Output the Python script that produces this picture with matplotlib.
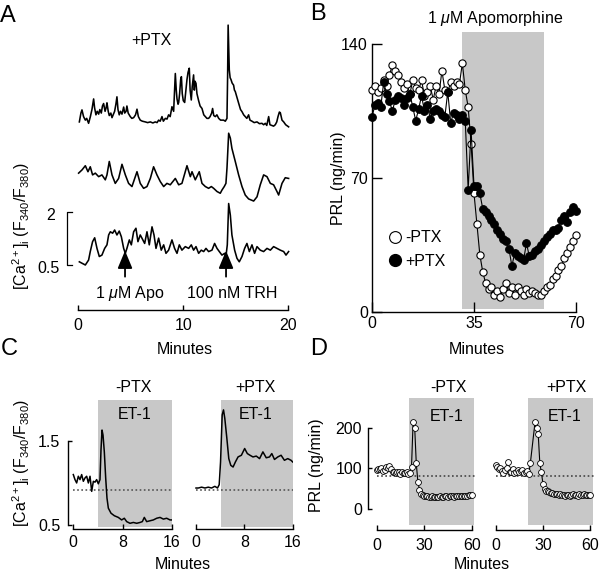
import matplotlib
matplotlib.use('Agg')
import matplotlib.pyplot as plt
from matplotlib.lines import Line2D

plt.rcParams['font.family'] = ['Liberation Sans', 'DejaVu Sans']
plt.rcParams['font.size'] = 11.5
plt.rcParams['mathtext.fontset'] = 'custom'
plt.rcParams['mathtext.rm'] = 'Liberation Sans'
plt.rcParams['mathtext.it'] = 'Liberation Sans:italic'
plt.rcParams['mathtext.bf'] = 'Liberation Sans:bold'
plt.rcParams['mathtext.default'] = 'regular'
plt.rcParams['axes.linewidth'] = 1.0

# ---- panel A: single-cell [Ca2+]i traces (+PTX), minutes vs ratio ----
t_top = [0.10, 0.25, 0.35, 0.50, 0.67, 0.80, 0.98, 1.15, 1.30, 1.46,
         1.55, 1.68, 1.80, 1.94, 2.05, 2.19, 2.30, 2.41, 2.55, 2.65,
         2.73, 2.85, 2.95, 3.10, 3.21, 3.35, 3.46, 3.58, 3.68, 3.78,
         3.90, 4.02, 4.16, 4.32, 4.42, 4.55, 4.63, 4.75, 4.95, 5.10,
         5.27, 5.45, 5.59, 5.72, 5.90, 6.10, 6.38, 6.60, 6.86, 7.10,
         7.33, 7.50, 7.65, 7.80, 7.97, 8.10, 8.29, 8.45, 8.60, 8.75,
         8.92, 9.08, 9.24, 9.33, 9.40, 9.50, 9.56, 9.65, 9.75, 9.82,
         9.90, 10.00, 10.13, 10.25, 10.35, 10.45, 10.57, 10.65, 10.76, 10.85,
         10.98, 11.05, 11.12, 11.21, 11.30, 11.46, 11.60, 11.78, 11.95, 12.10,
         12.25, 12.41, 12.55, 12.70, 12.79, 12.90, 13.05, 13.20, 13.37, 13.55,
         13.84, 14.00, 14.16, 14.22, 14.27, 14.33, 14.38, 14.46, 14.54, 14.65,
         14.79, 14.87, 14.95, 15.10, 15.27, 15.45, 15.59, 15.75, 15.90, 16.05,
         16.22, 16.35, 16.54, 16.75, 17.02, 17.25, 17.49, 17.65, 17.81, 17.95,
         18.13, 18.25, 18.44, 18.60, 18.76, 18.90, 19.02, 19.15, 19.24, 19.40,
         19.56, 19.75, 20.03]
ratio_top = [0.70, 0.95, 1.04, 0.85, 0.75, 0.80, 0.66, 0.85, 1.05, 1.35,
             1.10, 0.90, 1.00, 0.92, 1.05, 0.95, 1.15, 1.22, 1.00, 1.10,
             1.24, 1.00, 0.88, 0.95, 0.82, 0.92, 1.00, 1.20, 1.41, 1.05,
             0.90, 1.00, 0.92, 1.12, 0.95, 1.00, 1.15, 0.95, 0.85, 0.80,
             0.82, 0.90, 1.06, 0.85, 0.75, 0.72, 0.70, 0.68, 0.70, 0.67,
             0.70, 0.68, 0.75, 0.72, 0.85, 0.72, 0.80, 0.78, 0.90, 0.85,
             1.13, 1.00, 2.07, 1.60, 1.35, 1.20, 1.25, 1.50, 1.90, 1.98,
             1.50, 1.30, 1.25, 1.60, 1.90, 2.10, 2.22, 1.60, 1.32, 1.70,
             2.03, 1.60, 1.85, 1.79, 1.50, 1.30, 1.15, 1.08, 0.90, 0.85,
             0.80, 0.80, 0.85, 0.95, 1.08, 0.88, 0.85, 0.90, 0.80, 0.75,
             0.75, 0.72, 0.80, 2.00, 3.44, 2.80, 2.17, 1.95, 1.90, 1.80,
             1.74, 1.60, 1.56, 1.40, 1.23, 1.05, 0.99, 0.90, 0.85, 0.80,
             0.90, 0.75, 0.72, 0.68, 0.70, 0.65, 0.66, 0.62, 0.66, 0.60,
             0.85, 0.62, 0.60, 0.58, 0.62, 0.70, 0.85, 0.98, 0.96, 0.75,
             0.70, 0.62, 0.56]

t_mid = [0.03, 0.35, 0.67, 0.92, 1.14, 1.36, 1.62, 1.94, 2.25, 2.57,
         2.73, 2.95, 3.21, 3.52, 3.84, 4.16, 4.48, 4.79, 5.11, 5.59,
         5.90, 6.22, 6.54, 6.86, 7.17, 7.49, 7.81, 8.13, 8.44, 8.76,
         9.24, 9.56, 9.87, 10.35, 10.67, 10.83, 11.14, 11.52, 11.78, 12.10,
         12.41, 12.67, 12.89, 13.21, 13.52, 13.68, 13.90, 14.06, 14.16, 14.32,
         14.48, 14.63, 14.95, 15.27, 15.59, 15.90, 16.22, 16.70, 17.02, 17.33,
         17.65, 17.97, 18.29, 18.60, 18.92, 19.08, 19.40, 19.71, 20.03]
ratio_mid = [1.13, 1.22, 1.34, 1.17, 1.31, 1.08, 1.13, 1.03, 1.08, 0.94,
             1.08, 1.46, 1.08, 0.84, 0.98, 1.38, 1.08, 0.84, 0.75, 1.17,
             0.84, 0.70, 0.75, 0.98, 1.31, 1.08, 0.89, 0.75, 0.84, 0.80,
             0.98, 0.80, 0.84, 1.34, 1.03, 1.17, 0.94, 1.17, 0.84, 0.75,
             0.70, 0.75, 0.70, 0.61, 0.56, 0.65, 0.75, 0.84, 1.27, 2.26,
             2.12, 1.83, 1.46, 1.08, 0.75, 0.51, 0.40, 0.34, 0.46, 0.80,
             1.08, 1.03, 0.84, 0.80, 0.61, 0.51, 0.84, 1.00, 0.98]

t_bot = [0.10, 0.35, 0.67, 0.98, 1.14, 1.36, 1.56, 1.78, 2.00, 2.25,
         2.51, 2.73, 2.89, 3.05, 3.27, 3.46, 3.68, 3.90, 4.10, 4.32,
         4.48, 4.63, 4.86, 5.05, 5.27, 5.49, 5.68, 5.90, 6.06, 6.32,
         6.54, 6.76, 7.02, 7.21, 7.40, 7.65, 7.90, 8.13, 8.35, 8.60,
         8.92, 9.17, 9.40, 9.62, 9.87, 10.19, 10.51, 10.76, 10.98, 11.21,
         11.46, 11.71, 11.94, 12.16, 12.41, 12.73, 12.98, 13.21, 13.43, 13.68,
         13.94, 14.06, 14.19, 14.32, 14.48, 14.63, 14.89, 15.11, 15.33, 15.59,
         15.84, 16.06, 16.29, 16.54, 16.79, 17.02, 17.33, 17.65, 17.97, 18.29,
         18.60, 18.92, 19.24, 19.56, 19.78, 20.03]
ratio_bot = [0.59, 0.55, 0.50, 0.64, 0.88, 1.16, 1.27, 0.97, 0.74, 0.78,
             0.97, 1.07, 1.35, 1.44, 1.40, 1.49, 1.35, 1.46, 1.30, 0.97,
             0.83, 0.97, 1.21, 1.07, 1.44, 1.54, 1.16, 1.35, 1.26, 1.11,
             1.44, 1.07, 1.58, 1.35, 0.97, 1.26, 0.92, 1.07, 0.83, 0.92,
             1.21, 0.97, 0.83, 1.07, 0.92, 1.02, 0.97, 1.07, 0.92, 1.02,
             0.83, 0.92, 0.88, 0.97, 0.88, 0.92, 1.11, 0.97, 0.88, 0.78,
             0.83, 0.74, 1.07, 2.24, 1.91, 1.35, 0.92, 0.69, 0.59, 0.74,
             0.97, 1.11, 0.88, 1.07, 0.83, 1.02, 0.92, 0.88, 0.97, 0.92,
             1.02, 0.97, 0.92, 0.88, 0.78, 0.88]
apo_time = 4.45
trh_time = 14.07

# ---- panel B: PRL release, 1 point per minute ----
b_minutes = list(range(71))
prl_minus_ptx = [116, 118, 115, 117, 121, 118, 124, 129, 126, 124,
                 120, 117, 119, 114, 121, 117, 116, 121, 113, 115,
                 118, 111, 118, 114, 126, 116, 115, 120, 118, 120,
                 119, 130, 116, 107, 88, 62, 46, 30, 21, 15,
                 12, 13, 9, 11, 8, 12, 15, 10, 13, 9,
                 13, 11, 9, 12, 10, 11, 10, 9, 9, 11,
                 13, 14, 17, 19, 22, 24, 28, 31, 34, 37, 40]
prl_plus_ptx = [102, 108, 109, 107, 120, 114, 110, 105, 111, 113,
                112, 108, 112, 114, 107, 100, 106, 113, 105, 108,
                101, 105, 106, 105, 103, 102, 115, 99, 104, 103,
                101, 103, 100, 64, 95, 66, 66, 62, 54, 52,
                50, 48, 46, 43, 41, 38, 37, 33, 24, 31,
                29, 28, 27, 36, 29, 30, 32, 33, 35, 37,
                39, 41, 43, 43, 44, 48, 50, 47, 52, 55, 53]
apo_window = [31, 59]

# ---- panel C: [Ca2+]i with ET-1 ----
c_left_min = [0.05, 0.32, 0.59, 0.86, 1.13, 1.40, 1.67, 1.94, 2.21, 2.48,
              2.75, 3.02, 3.29, 3.56, 3.82, 4.09, 4.36, 4.52, 4.69, 4.85,
              5.06, 5.28, 5.49, 5.71, 6.14, 6.68, 7.32, 7.86, 8.29, 8.67,
              9.21, 9.75, 10.29, 10.83, 11.20, 11.52, 11.90, 12.44, 12.98, 13.52,
              14.06, 14.60, 15.13, 15.67, 15.94]
c_left_ratio = [1.10, 1.04, 1.00, 1.08, 1.04, 1.10, 1.02, 1.06, 1.08, 1.00,
                1.08, 0.90, 1.02, 1.01, 1.04, 0.99, 1.04, 1.39, 1.63, 1.57,
                1.37, 1.06, 0.82, 0.70, 0.64, 0.61, 0.59, 0.56, 0.58, 0.54,
                0.52, 0.53, 0.52, 0.53, 0.54, 0.59, 0.54, 0.55, 0.56, 0.58,
                0.59, 0.57, 0.58, 0.56, 0.56]
c_right_min = [0.0, 0.38, 0.93, 1.48, 2.02, 2.57, 3.11, 3.55, 3.83, 4.05,
               4.32, 4.54, 4.75, 5.08, 5.41, 5.74, 6.12, 6.50, 6.94, 7.49,
               8.03, 8.47, 8.91, 9.40, 9.95, 10.49, 11.04, 11.59, 12.13, 12.51,
               12.95, 13.50, 14.04, 14.59, 15.14, 15.68, 15.96]
c_right_ratio = [0.94, 0.94, 0.95, 0.94, 0.95, 0.94, 0.96, 0.94, 0.98, 1.25,
                 1.81, 1.87, 1.77, 1.54, 1.29, 1.21, 1.19, 1.25, 1.31, 1.33,
                 1.41, 1.35, 1.33, 1.31, 1.32, 1.29, 1.37, 1.30, 1.31, 1.35,
                 1.28, 1.31, 1.33, 1.27, 1.29, 1.27, 1.25]
c_baseline = 0.92
et1_c = [4.1, 16]

# ---- panel D: PRL release with ET-1 ----
d_minutes = list(range(61))
d_left_prl = [96, 97, 98, 101, 94, 96, 103, 100, 106, 97,
              90, 92, 88, 91, 90, 86, 91, 89, 88, 90,
              85, 88, 104, 214, 200, 112, 67, 47, 38, 35,
              33, 32, 31, 30, 30, 31, 30, 29, 30, 30,
              31, 30, 30, 31, 31, 30, 31, 32, 31, 30,
              31, 32, 31, 32, 33, 32, 33, 33, 34, 35, 35]
d_right_minutes = list(range(23)) + list(range(25, 61))
d_right_prl = [108, 104, 98, 101, 94, 88, 96, 100, 116, 90,
               92, 99, 88, 92, 96, 90, 94, 96, 88, 91,
               93, 85, 112,
               214, 198, 183, 112, 90, 61, 49, 45, 43, 41,
               40, 39, 38, 36, 37, 35, 36, 34, 35, 33,
               34, 35, 33, 34, 36, 34, 35, 33, 36, 34,
               35, 36, 34, 35, 34, 34]
d_baseline = 80
et1_d = [20.5, 61.5]

GRAY = '#c8c8c8'
W, H = 600, 577
fig = plt.figure(figsize=(6, 5.77), dpi=100)


def add_ax(left, top, right, bottom):
    # pixel box -> figure fraction
    return fig.add_axes([left / W, 1 - bottom / H, (right - left) / W, (bottom - top) / H])


def ftext(x, y, s, **kw):
    fig.text(x / W, 1 - y / H, s, **kw)


ca_label = r'[Ca$^{2+}$]$_i$ (F$_{340}$/F$_{380}$)'

# ================= A =================
ax = add_ax(78.3 - 4.5 * 10.5, 310 - 8.374 * 35.33, 78.3 + 20.5 * 10.5, 310)
ax.set_xlim(-4.5, 20.5)
ax.set_ylim(-0.774, 7.6)
ax.plot(t_top, [v + 3.85 for v in ratio_top], color='k', lw=1.15)
ax.plot(t_mid, [v + 1.97 for v in ratio_mid], color='k', lw=1.15)
ax.plot(t_bot, ratio_bot, color='k', lw=1.15)
# ratio scale bar 0.5 - 2
ax.plot([-0.63, -1.10, -1.10, -0.63], [2.0, 2.0, 0.5, 0.5], color='k', lw=0.9, clip_on=False)
ax.text(-2.2, 1.77, '2', ha='right', va='baseline')
ax.text(-1.74, 0.27, '0.5', ha='right', va='baseline')
for t in (apo_time, trh_time):
    ax.annotate('', xy=(t, 0.905), xytext=(t, 0.169),
                arrowprops=dict(arrowstyle='-|>,head_length=0.6,head_width=0.25',
                                color='k', lw=1.3, mutation_scale=18,
                                shrinkA=0, shrinkB=0))
for s in ('top', 'right', 'left'):
    ax.spines[s].set_visible(False)
ax.spines['bottom'].set_bounds(0, 20)
ax.set_yticks([])
ax.set_xticks([0, 10, 20])
ax.tick_params(axis='x', direction='in', length=3.6, width=1, pad=5.5)

ftext(151, 45, '+PTX', ha='center', va='baseline')
ftext(130, 298, r'1 $\mathit{\mu}$M Apo', ha='center', va='baseline')
ftext(232, 298, '100 nM TRH', ha='center', va='baseline')
ftext(185, 354, 'Minutes', ha='center', va='baseline')
ftext(21, 226, ca_label, rotation=90, ha='center', va='center')
ftext(0, 22, 'A', fontsize=17, ha='left', va='baseline')

# ================= B =================
ax = add_ax(372, 312 - 146.5 * 1.914, 372 + 70 * 2.914, 312)
ax.set_xlim(0, 70)
ax.set_ylim(0, 146.5)
ax.fill_between(apo_window, 1.5, 146.5, color=GRAY, lw=0, zorder=0)
ax.plot(b_minutes, prl_minus_ptx, '-o', color='k', lw=0.8, ms=5.2, mfc='white',
        mec='k', mew=0.8, clip_on=False, zorder=3)
ax.plot(b_minutes, prl_plus_ptx, '-o', color='k', lw=0.8, ms=5.5, mfc='k',
        mec='k', mew=0.8, clip_on=False, zorder=4)
for s in ('top', 'right'):
    ax.spines[s].set_visible(False)
ax.spines['left'].set_bounds(0, 140)
ax.spines['bottom'].set_bounds(0, 70)
ax.set_xticks([0, 35, 70])
ax.set_yticks([0, 70, 140])
ax.tick_params(direction='in', length=7, width=1, pad=3)
handles = [Line2D([], [], ls='none', marker='o', ms=8.5, mfc='white', mec='k', mew=0.8, label='-PTX'),
           Line2D([], [], ls='none', marker='o', ms=8.5, mfc='k', mec='k', label='+PTX')]
ax.legend(handles=handles, loc='upper left', bbox_to_anchor=(0.081, 0.292), frameon=False,
          handlelength=0.8, handletextpad=0.25, labelspacing=0.55, borderpad=0, borderaxespad=0)

ftext(495, 23.5, r'1 $\mathit{\mu}$M Apomorphine', ha='center', va='baseline')
ftext(477, 354, 'Minutes', ha='center', va='baseline')
ftext(338, 178, 'PRL (ng/min)', rotation=90, ha='center', va='center')
ftext(310, 20, 'B', fontsize=17, ha='left', va='baseline')

# ================= C =================
c_top = 528.5 - (1.99 - 0.458) * 84
for left0, px, mins, vals, with_y in ((73, 6.19, c_left_min, c_left_ratio, True),
                                       (196, 6.06, c_right_min, c_right_ratio, False)):
    ax = add_ax(left0 - 0.8 * px, c_top, left0 + 16 * px, 528.5)
    ax.set_xlim(-0.8, 16)
    ax.set_ylim(0.458, 1.99)
    ax.fill_between(et1_c, 0.476, 1.99, color=GRAY, lw=0, zorder=0)
    ax.plot([0, 16], [c_baseline, c_baseline], ls=(0, (1, 1.5)), color='#555555', lw=1.2)
    ax.plot(mins, vals, color='k', lw=1.1)
    for s in ('top', 'right'):
        ax.spines[s].set_visible(False)
    ax.spines['bottom'].set_bounds(0, 16)
    ax.set_xticks([0, 8, 16])
    ax.tick_params(axis='x', direction='in', length=3.6, width=1, pad=4.5)
    if with_y:
        ax.spines['left'].set_bounds(0.5, 1.5)
        ax.set_yticks([0.5, 1.5])
        ax.set_yticklabels(['0.5', '1.5'])
        ax.tick_params(axis='y', direction='in', length=3, width=1, pad=5.5)
    else:
        ax.spines['left'].set_visible(False)
        ax.set_yticks([])

ftext(133, 392, '-PTX', ha='center', va='baseline')
ftext(255, 392, '+PTX', ha='center', va='baseline')
ftext(135, 419, 'ET-1', ha='center', va='baseline')
ftext(256, 419, 'ET-1', ha='center', va='baseline')
ftext(183, 569, 'Minutes', ha='center', va='baseline')
ftext(21, 463, ca_label, rotation=90, ha='center', va='center')
ftext(1, 355, 'C', fontsize=17, ha='left', va='baseline')

# ================= D =================
d_top = 530 - (273 + 51.5) * 0.4075
for left0, mins, vals, with_y in ((376.7, d_minutes, d_left_prl, True),
                                  (495.5, d_right_minutes, d_right_prl, False)):
    ax = add_ax(left0 - 5.3 * 1.583, d_top, left0 + 62 * 1.583, 530)
    ax.set_xlim(-5.3, 62)
    ax.set_ylim(-51.5, 273)
    ax.fill_between(et1_d, -39, 273, color=GRAY, lw=0, zorder=0)
    ax.plot([0, 62], [d_baseline, d_baseline], ls=(0, (1, 1.5)), color='#444444', lw=1.2, zorder=1)
    ax.plot(mins, vals, '-o', color='k', lw=0.8, ms=4.2, mfc='white', mec='k', mew=0.6,
            clip_on=False, zorder=3)
    for s in ('top', 'right'):
        ax.spines[s].set_visible(False)
    ax.spines['bottom'].set_bounds(0, 60)
    ax.set_xticks([0, 30, 60])
    ax.tick_params(axis='x', direction='in', length=3.6, width=1, pad=5.5)
    if with_y:
        ax.spines['left'].set_bounds(0, 200)
        ax.set_yticks([0, 100, 200])
        ax.tick_params(axis='y', direction='in', length=3, width=1, pad=4.5)
    else:
        ax.spines['left'].set_visible(False)
        ax.set_yticks([])

ftext(448, 392, '-PTX', ha='center', va='baseline')
ftext(566, 392, '+PTX', ha='center', va='baseline')
ftext(447, 421, 'ET-1', ha='center', va='baseline')
ftext(565, 421, 'ET-1', ha='center', va='baseline')
ftext(482, 569, 'Minutes', ha='center', va='baseline')
ftext(317, 465, 'PRL (ng/min)', rotation=90, ha='center', va='center')
ftext(310, 355, 'D', fontsize=17, ha='left', va='baseline')

fig.savefig('out.png', dpi=100)
